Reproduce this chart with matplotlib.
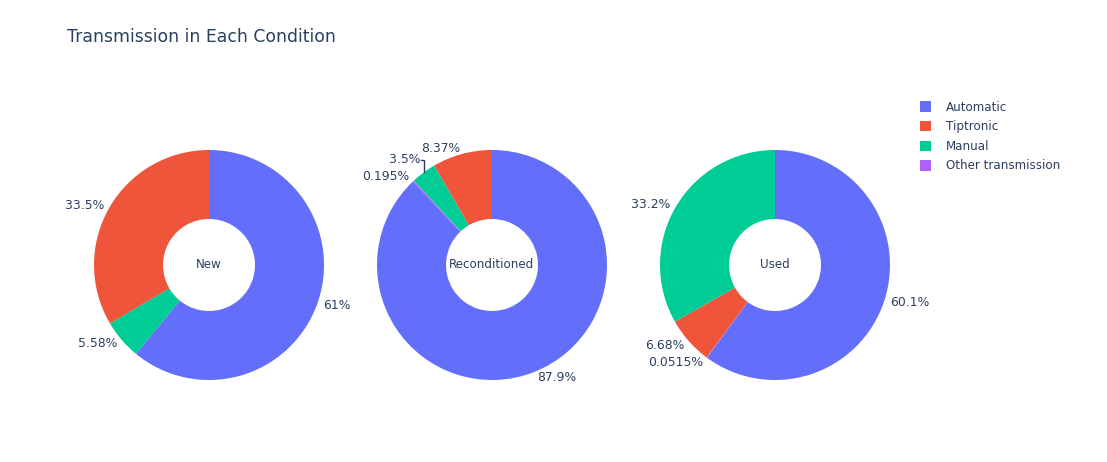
import matplotlib.pyplot as plt
from matplotlib.patches import Patch
import numpy as np

# plotly falls back to verdana here; DejaVu Sans has nearly the same metrics
plt.rcParams['font.family'] = ['DejaVu Sans']

categories = ['Automatic', 'Tiptronic', 'Manual', 'Other transmission']
colors = ['#636EFA', '#EF553B', '#00CC96', '#AB63FA']
conditions = ['New', 'Reconditioned', 'Used']

# share of each transmission (%) in category order
new_share = [61.0, 33.5, 5.58, 0.0]
recon_share = [87.9, 8.37, 3.5, 0.195]
used_share = [60.1, 6.68, 33.2, 0.0515]

# slice order, clockwise from 12 o'clock
new_order = ['Automatic', 'Manual', 'Tiptronic']
recon_order = ['Automatic', 'Other transmission', 'Manual', 'Tiptronic']
used_order = ['Automatic', 'Other transmission', 'Tiptronic', 'Manual']

TEXT = '#2a3f5f'
W, H = 1107, 462
fig = plt.figure(figsize=(W / 100, H / 100), dpi=100)
fig.text(67 / W, 1 - 37 / H, 'Transmission in Each Condition',
         fontsize=12.4, color=TEXT, va='center')

shares = [new_share, recon_share, used_share]
orders = [new_order, recon_order, used_order]
centers_x = [209, 492, 775]
cy, r = 265, 115

for name, share, order, cx in zip(conditions, shares, orders, centers_x):
    ax = fig.add_axes([(cx - r) / W, (H - cy - r) / H, 2 * r / W, 2 * r / H])
    vals = [share[categories.index(c)] for c in order]
    cols = [colors[categories.index(c)] for c in order]
    wedges, texts = ax.pie(vals, labels=[f'{v:.3g}%' for v in vals], colors=cols,
                           startangle=90, counterclock=False, labeldistance=1.05,
                           wedgeprops=dict(width=0.6, linewidth=0),
                           textprops=dict(fontsize=8.9, color=TEXT))
    ax.set_xlim(-1, 1)
    ax.set_ylim(-1, 1)
    ax.text(0, 0, name, ha='center', va='center', fontsize=8.6, color=TEXT)

    # plotly pushes the crowded 3.5% label up and adds a leader line
    if name == 'Reconditioned':
        i = order.index('Manual')
        w = wedges[i]
        t = texts[i]
        tx, ty = t.get_position()
        ty2 = ty + 0.07
        t.set_position((tx, ty2))
        mid = np.deg2rad((w.theta1 + w.theta2) / 2)
        ex, ey = np.cos(mid), np.sin(mid)
        ax.plot([tx + 0.01, ex, ex], [ty2, ty2, ey], color=TEXT, lw=1,
                clip_on=False)

handles = [Patch(facecolor=c, label=l) for c, l in zip(colors, categories)]
fig.legend(handles=handles, loc='upper left', bbox_to_anchor=(909 / W, 1 - 90 / H),
           frameon=False, fontsize=8.6, handlelength=0.95, handleheight=0.95,
           handletextpad=1.25, labelspacing=0.55, labelcolor=TEXT)

fig.savefig('out.png', dpi=100)
